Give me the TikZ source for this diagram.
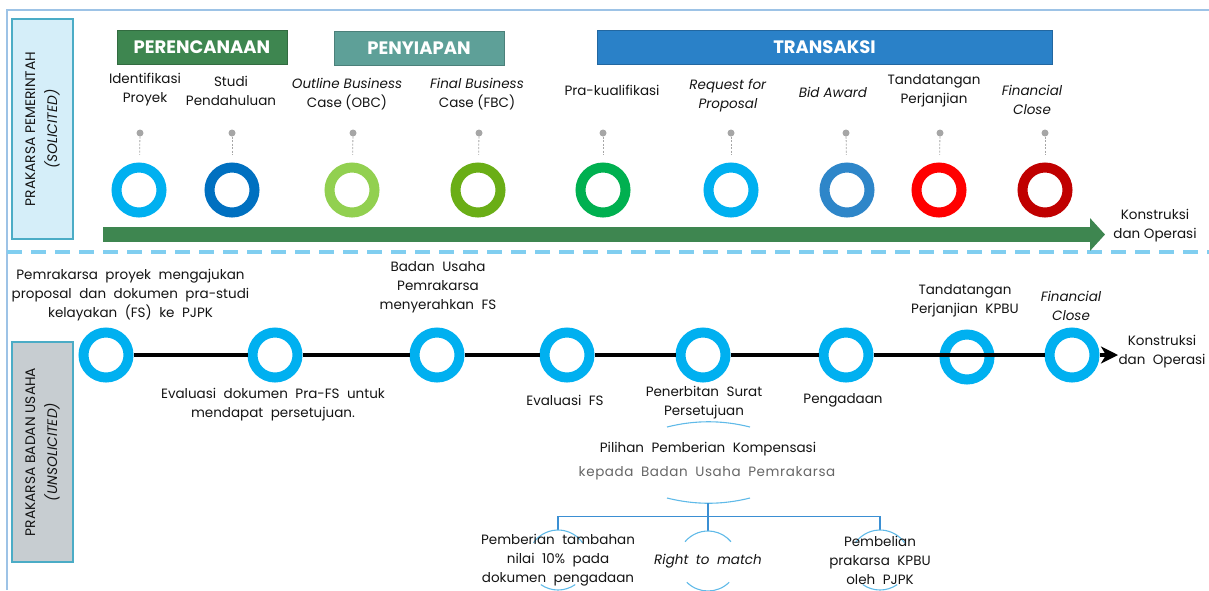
\documentclass[tikz,border=0pt]{standalone}
\usepackage{fontspec}
\setmainfont{Poppins}
\usepackage{tikz}
\usetikzlibrary{arrows.meta,positioning}
\definecolor{frameblue}{RGB}{157,195,230}
\definecolor{boxedge}{RGB}{75,172,198}
\definecolor{solfill}{RGB}{213,238,249}
\definecolor{unsolfill}{RGB}{199,205,209}
\definecolor{plangreen}{RGB}{62,134,80}
\definecolor{prepteal}{RGB}{94,160,152}
\definecolor{transblue}{RGB}{42,129,200}
\definecolor{ringsky}{RGB}{0,176,240}
\definecolor{ringnavy}{RGB}{0,112,192}
\definecolor{ringlime}{RGB}{146,208,80}
\definecolor{ringolive}{RGB}{106,174,22}
\definecolor{ringgreen}{RGB}{0,176,80}
\definecolor{ringblue}{RGB}{46,134,201}
\definecolor{ringred}{RGB}{255,0,0}
\definecolor{ringdark}{RGB}{192,0,0}
\definecolor{dotgray}{RGB}{166,166,166}
\definecolor{dashblue}{RGB}{128,206,240}
\definecolor{treeblue}{RGB}{59,143,211}
\definecolor{arcblue}{RGB}{96,186,232}
\definecolor{txt}{RGB}{20,20,20}
\newcommand\widesp{\spaceskip=7.5pt plus 1pt\relax}
\tikzset{>=stealth}
\tikzset{%
    ring/.style={circle,draw=#1,line width=10pt,minimum size=45pt,inner sep=0pt},
    dot/.style={circle,fill=dotgray,minimum size=7pt,inner sep=0pt},
    stem/.style={dotgray,line width=0.8pt,dash pattern=on 2pt off 1.5pt,shorten >=8pt},
    phase/.style={draw=#1!80!black,fill=#1,line width=0.8pt,minimum height=34pt,
        text=white,font=\fontsize{18}{20}\selectfont\bfseries},
    sidebox/.style={draw=boxedge,line width=1.3pt,rotate=90,minimum width=220pt,
        minimum height=61pt,align=center,text=txt,font=\fontsize{13.8}{22}\selectfont},
    lbl/.style={align=center,text=txt,inner sep=0pt,font=\fontsize{13.5}{19}\selectfont},
    ulbl/.style={lbl,execute at begin node=\widesp},
    tline/.style={black,line width=3.5pt},
    tree/.style={treeblue,line width=1.1pt},
    arcline/.style={arcblue,line width=1.1pt},
    optcirc/.style={circle,minimum size=60pt,inner sep=0pt,outer sep=0pt}
}
\begin{document}
\begin{tikzpicture}[x=1pt,y=-1pt]
    \useasboundingbox (0,0) rectangle (1209,590);
    \draw[frameblue,line width=1.5pt] (7,590) -- (7,10) -- (1209,10);
    \node[sidebox,fill=solfill] (sol) at (42.5,129) {PRAKARSA PEMERINTAH\\\textit{(SOLICITED)}};
    \node[sidebox,fill=unsolfill] (unsol) at (42.5,452) {PRAKARSA BADAN USAHA\\\textit{(UNSOLICITED)}};
    \draw[dashblue,line width=4pt,dash pattern=on 15pt off 9pt] (7,252) -- (1209,252);

    % solicited
    \node[phase=plangreen,minimum width=170pt] (plan) at (202,47) {PERENCANAAN};
    \node[phase=prepteal,minimum width=170pt] (prep) at (419,48.5) {PENYIAPAN};
    \node[phase=transblue,minimum width=455pt] (trans) at (824.5,47) {TRANSAKSI};

    \node[lbl] (l1) at (145,89.5) {Identifikasi\\Proyek};
    \node[lbl] (l2) at (231,91) {Studi\\Pendahuluan};
    \node[lbl] (l3) at (347,94.5) {\textit{Outline Business}\\Case (OBC)};
    \node[lbl] (l4) at (477,94.5) {\textit{Final Business}\\Case (FBC)};
    \node[lbl] (l5) at (612,90) {Pra-kualifikasi};
    \node[lbl] (l6) at (728,96) {\textit{Request for}\\\textit{Proposal}};
    \node[lbl] (l7) at (833,92) {\textit{Bid Award}};
    \node[lbl] (l8) at (934,91) {Tandatangan\\Perjanjian};
    \node[lbl] (l9) at (1032,99.5) {\textit{Financial}\\\textit{Close}};

    \node[ring=ringsky] (t1) at (139,190) {};    \node[dot] (p1) at (140,133) {};  \draw[stem] (p1) -- (t1);
    \node[ring=ringnavy] (t2) at (232,190) {};   \node[dot] (p2) at (232,133) {};  \draw[stem] (p2) -- (t2);
    \node[ring=ringlime] (t3) at (352,190) {};   \node[dot] (p3) at (353,133) {};  \draw[stem] (p3) -- (t3);
    \node[ring=ringolive] (t4) at (478,190) {};  \node[dot] (p4) at (479,133) {};  \draw[stem] (p4) -- (t4);
    \node[ring=ringgreen] (t5) at (603,190) {};  \node[dot] (p5) at (603,133) {};  \draw[stem] (p5) -- (t5);
    \node[ring=ringsky] (t6) at (731,190) {};    \node[dot] (p6) at (731,133) {};  \draw[stem] (p6) -- (t6);
    \node[ring=ringblue] (t7) at (847,190) {};   \node[dot] (p7) at (846,133) {};  \draw[stem] (p7) -- (t7);
    \node[ring=ringred] (t8) at (939,190) {};    \node[dot] (p8) at (940,133) {};  \draw[stem] (p8) -- (t8);
    \node[ring=ringdark] (t9) at (1045,190) {};  \node[dot] (p9) at (1045,133) {}; \draw[stem] (p9) -- (t9);

    \coordinate (gs) at (103,234.5);
    \coordinate (ge) at (1105,234.5);
    \draw[plangreen,line width=15pt,-{Triangle[length=15pt,width=32pt]}] (gs) -- (ge);
    \node[lbl] (k1) at (1155,226) {Konstruksi\\dan Operasi};

    % unsolicited
    \node[ring=ringsky] (b1) at (106,355) {};
    \node[ring=ringsky] (b2) at (275,355) {};
    \node[ring=ringsky] (b3) at (437,355) {};
    \node[ring=ringsky] (b4) at (567,355) {};
    \node[ring=ringsky] (b5) at (703,355) {};
    \node[ring=ringsky] (b6) at (846,355) {};
    \node[ring=ringsky] (b7) at (967,357) {};
    \node[ring=ringsky] (b8) at (1072,355) {};
    \coordinate (tip) at (1118,355);
    \draw[tline] (b1) -- (b2);
    \draw[tline] (b2) -- (b3);
    \draw[tline] (b3) -- (b4);
    \draw[tline] (b4) -- (b5);
    \draw[tline] (b5) -- (b6);
    \draw[tline] (b6) -- (b8);
    \draw[tline,-{Stealth[length=17pt,width=17pt,inset=5pt]}] (b8) -- (tip);
    \node[ulbl] (k2) at (1162,352) {Konstruksi\\dan Operasi};

    \node[ulbl] (u1) at (130.5,295.5) {Pemrakarsa proyek mengajukan\\proposal dan dokumen pra-studi\\kelayakan (FS) ke PJPK};
    \node[ulbl] (u2) at (273,405) {Evaluasi dokumen Pra-FS untuk\\mendapat persetujuan.};
    \node[ulbl] (u3) at (438,287) {Badan Usaha\\Pemrakarsa\\menyerahkan FS};
    \node[ulbl] (u4) at (565,400) {Evaluasi FS};
    \node[ulbl] (u5) at (704,402.5) {Penerbitan Surat\\Persetujuan};
    \node[ulbl] (u6) at (843,400) {Pengadaan};
    \node[ulbl] (u7) at (965,301) {Tandatangan\\Perjanjian KPBU};
    \node[ulbl] (u8) at (1071,306) {\textit{Financial}\\\textit{Close}};

    % kompensasi
    \draw[arcline] (667,427) .. controls (695,420) and (722,420) .. (750,427);
    \node[ulbl] (kom1) at (708,449) {Pilihan Pemberian Kompensasi};
    \node[ulbl,text=black!60] (kom2) at (707,473) {\addfontfeatures{LetterSpace=4.5}kepada Badan Usaha Pemrakarsa};
    \draw[arcline] (667,498) .. controls (695,505) and (722,505) .. (750,498);
    \coordinate (kom) at (708,503);
    \node[optcirc] (o1) at (558,560) {};
    \node[optcirc] (o2) at (708,561) {};
    \node[optcirc] (o3) at (880,560) {};
    \draw[tree] (kom) -- ++(0,13.5) coordinate (fork);
    \draw[tree] (o1.north) |- (fork) -| (o3.north);
    \draw[tree] (fork) -- (o2.north);
    \draw[arcline] (o1) ++(215:30) arc[start angle=215,end angle=325,radius=30];
    \draw[arcline] (o1) ++(55:30) arc[start angle=55,end angle=125,radius=30];
    \draw[arcline] (o2) ++(220:30) arc[start angle=220,end angle=320,radius=30];
    \draw[arcline] (o2) ++(45:30) arc[start angle=45,end angle=135,radius=30];
    \draw[arcline] (o3) ++(215:30) arc[start angle=215,end angle=325,radius=30];
    \draw[arcline] (o3) ++(55:30) arc[start angle=55,end angle=125,radius=30];
    \node[ulbl] (o1t) at (o1) {Pemberian tambahan\\nilai 10\% pada\\dokumen pengadaan};
    \node[ulbl] (o2t) at (o2) {\textit{Right to match}};
    \node[ulbl] (o3t) at (o3) {Pembelian\\prakarsa KPBU\\oleh PJPK};
\end{tikzpicture}
\end{document}
